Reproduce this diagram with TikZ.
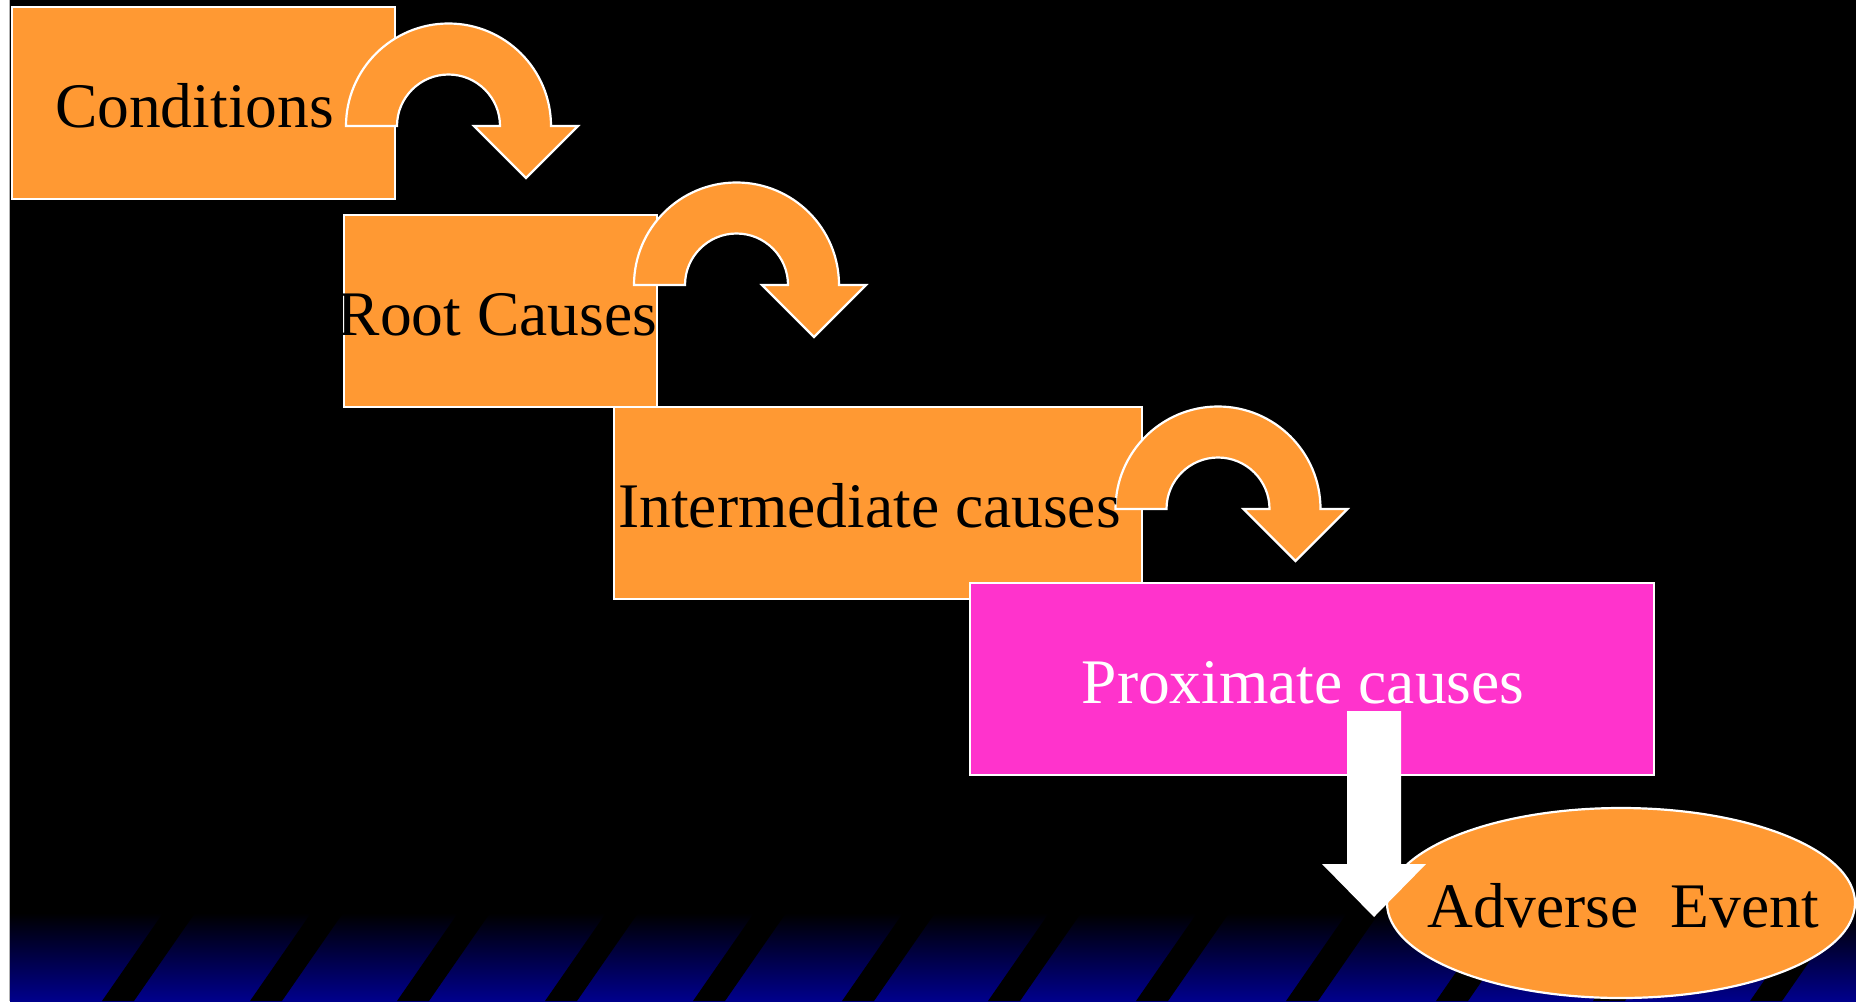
\documentclass[tikz,border=0pt]{standalone}
\usepackage{fontspec}
\setmainfont{Liberation Serif}
\usetikzlibrary{shapes.geometric}
\definecolor{boxorange}{RGB}{255,153,51}
\definecolor{boxpink}{RGB}{255,51,204}
\definecolor{bandblue}{RGB}{0,0,140}
\tikzset{
  stepbox/.style={draw=white, line width=1.1pt, fill=boxorange, inner sep=0pt, outer sep=0pt, minimum height=96pt},
  lbl/.style={font=\fontsize{31.75pt}{38pt}\selectfont, text=black, inner sep=0pt, anchor=base},
  turnarrow/.style={draw=white, line width=1.1pt, fill=boxorange, line join=miter},
  stripe/.style={fill=black},
  blockarrow/.style={fill=white},
}
\newcommand{\uturn}[2]{%
  \draw[turnarrow] (#1-102.5,#2) arc[start angle=180,end angle=360,radius=102.5]
    -- (#1+129.5,#2) -- (#1+77.5,#2+52) -- (#1+25.5,#2) -- (#1+51.5,#2)
    arc[start angle=0,end angle=-180,radius=51.5] -- cycle;}
\begin{document}
\begin{tikzpicture}[x=0.5pt,y=-0.5pt]
\useasboundingbox (0,0) rectangle (1856,1001);
% background
\fill[black] (0,0) rectangle (1856,1001);
\fill[white] (0,0) rectangle (9,1001);
\draw[gray!60, line width=0.5pt] (9.5,0) -- (9.5,1001);
% bottom band
\shade[top color=black, bottom color=bandblue] (10,913) rectangle (1856,1001);
\foreach \b in {102,250,397,545,693,842,988,1136,1286,1436,1593,1750}{
  \fill[stripe] (\b,1001) -- (\b+61,913) -- (\b+93,913) -- (\b+32,1001) -- cycle;
}
% boxes
\node[stepbox, minimum width=191.5pt] (cond) at (203.5,103) {};
\node[stepbox, minimum width=156.5pt] (root) at (500.5,311) {};
\node[stepbox, minimum width=264pt] (inter) at (878,503) {};
% curved arrows
\uturn{448.5}{126}
\uturn{736.5}{285}
\uturn{1218}{509}
% labels
\node[lbl] (condtxt) at ([shift={(-9,24)}]cond.center) {Conditions};
\node[lbl] (roottxt) at ([shift={(-3,24)}]root.center) {Root Causes};
\node[lbl] (intertxt) at ([shift={(-8.5,24)}]inter.center) {Intermediate causes};
% proximate
\node[stepbox, fill=boxpink, minimum width=342pt] (prox) at (1312,679) {};
\node[lbl, text=white] (proxtxt) at ([shift={(-9,24)}]prox.center) {Proximate causes};
% adverse event
\node[ellipse, draw=white, line width=1.1pt, fill=boxorange, minimum width=234pt, minimum height=95pt, inner sep=0pt] (adv) at (1621,903) {};
\node[lbl] (advtxt) at ([shift={(2,24)}]adv.center) {Adverse\ \ Event};
% white block arrow from prox to adv
\fill[blockarrow] (1347,711) -- (1401,711) -- (1401,864) -- (1426,864) -- (1374,917) -- (1322,864) -- (1347,864) -- cycle;
\end{tikzpicture}
\end{document}
